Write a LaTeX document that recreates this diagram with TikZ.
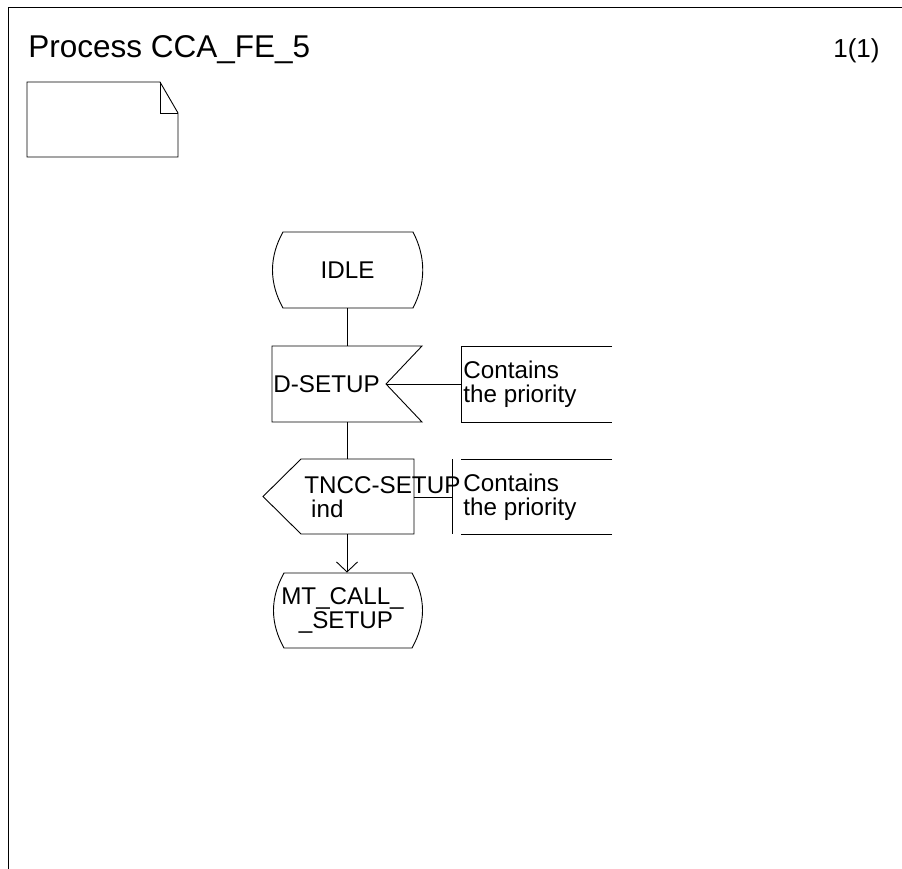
\documentclass[tikz,border=0pt]{standalone}
\usepackage{fontspec}
\setmainfont{Liberation Sans}
\usetikzlibrary{arrows.meta}
\begin{document}
\begin{tikzpicture}[x=1pt,y=-1pt,line width=0.9pt,
  ghost/.style={inner sep=0pt,draw=none},
  lbl/.style={inner sep=0pt,font=\fontsize{24.2}{24.5}\selectfont,align=left},
  ttl/.style={inner sep=0pt,font=\fontsize{31.5}{33}\selectfont},
  pg/.style={inner sep=0pt,font=\fontsize{26}{28}\selectfont},
  barb/.style={-{Straight Barb[length=10pt,width=21pt]}}]
\useasboundingbox (0,0) rectangle (902,869);
% page frame
\draw (902,7) -- (8,7) -- (8,869);
\node[ttl,anchor=base west] (title) at (28,58) {Process CCA\_FE\_5};
\node[pg,anchor=base east] (page) at (880,58) {1(1)};
% note symbol
\draw (27,82) -- (160,82) -- (178,113) -- (178,157) -- (27,157) -- cycle;
\draw (160,82) -- (160,113) -- (178,113);
% named node frames
\node[ghost,minimum width=151pt,minimum height=76pt] (idle) at (347.5,270) {};
\node[ghost,minimum width=150pt,minimum height=76pt] (dsetup) at (347,384) {};
\node[ghost,minimum width=151pt,minimum height=75pt] (tncc) at (338.5,496.5) {};
\node[ghost,minimum width=150pt,minimum height=75pt] (mt) at (348,610.5) {};
\node[ghost,minimum width=151pt,minimum height=76pt] (c1) at (536.5,384) {};
\node[ghost,minimum width=160pt,minimum height=75pt] (c2) at (532,496.5) {};
% state IDLE
\draw (283,232) -- (413,232) .. controls (426,257) and (426,283) .. (413,308)
      -- (283,308) .. controls (269,283) and (269,257) .. (283,232) -- cycle;
\node[lbl] (idlet) at (347.5,270) {IDLE};
% input D-SETUP
\draw (272,346) -- (422,346) -- (386,384) -- (422,422) -- (272,422) -- cycle;
\node[lbl,anchor=west] (dsetupt) at (273,384) {D-SETUP};
% comment 1
\draw (612,346) -- (461,346) -- (461,422) -- (612,422);
\node[lbl,anchor=west] (c1t) at (463,384) {Contains\\the priority};
\draw (386,384) -- (c1.west);
% output TNCC-SETUP ind
\draw (301,459) -- (414,459) -- (414,534) -- (301,534) -- (263,496.5) -- cycle;
\node[lbl,anchor=west] (tncct) at (304,497) {TNCC-SETUP\\\ ind};
% comment 2
\draw (452,459) -- (452,534);
\draw (612,459) -- (461,459);
\draw (612,534) -- (461,534);
\node[lbl,anchor=west] (c2t) at (463,497) {Contains\\the priority};
\draw (tncc.east |- 0,497) -- (c2.west |- 0,497);
% state MT_CALL_SETUP
\draw (284,573) -- (412,573) .. controls (426,598) and (426,623) .. (412,648)
      -- (284,648) .. controls (270,623) and (270,598) .. (284,573) -- cycle;
\node[lbl,align=center] (mtt) at (342.5,610.5) {MT\_CALL\_\\\ \_SETUP};
% flow lines
\draw (idle.south) -- (dsetup.south |- idle.south) -- (dsetup.north);
\draw (dsetup.south) -- (dsetup.south |- tncc.north);
\draw[barb] (dsetup.south |- tncc.south) -- (dsetup.south |- mt.north);
\end{tikzpicture}
\end{document}
